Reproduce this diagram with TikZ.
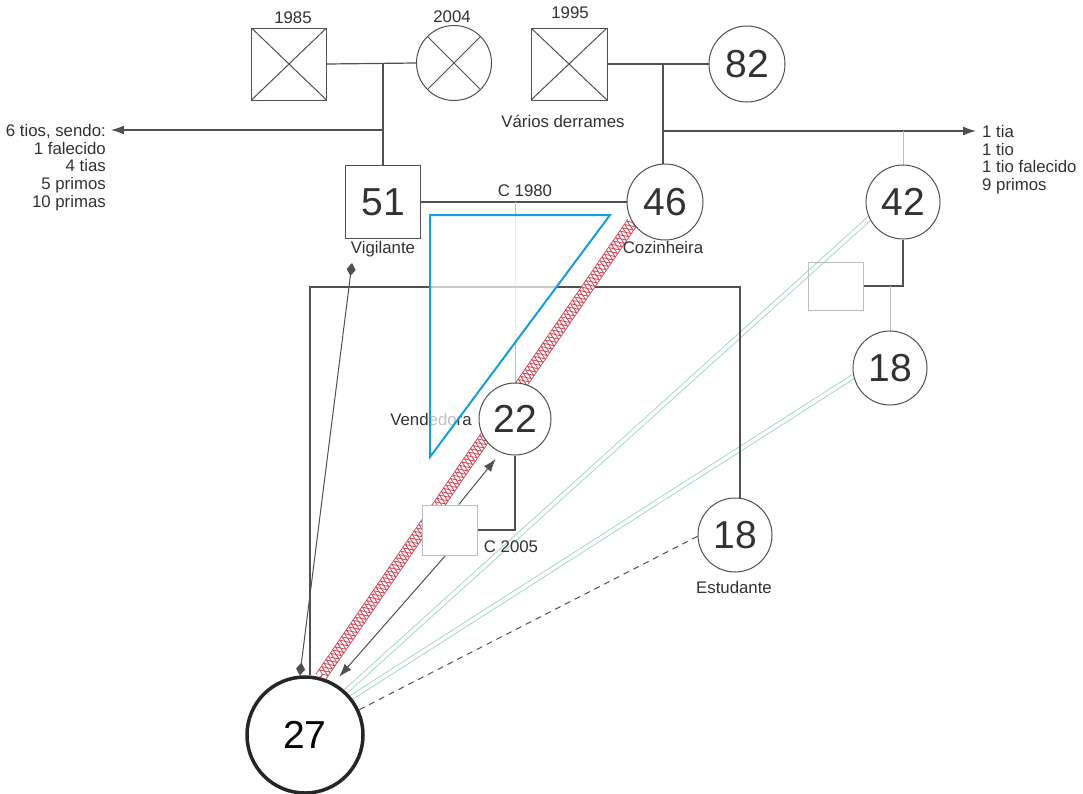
\documentclass[tikz,border=0pt]{standalone}
\usepackage{fontspec}
\setmainfont{Liberation Sans}
\usetikzlibrary{arrows.meta,decorations.pathmorphing,calc}
\pgfdeclarelayer{bg}
\pgfsetlayers{bg,main}
\definecolor{lg}{RGB}{80,80,80}
\definecolor{lgt}{RGB}{190,190,190}
\definecolor{txt}{RGB}{50,50,50}
\definecolor{cyanl}{RGB}{20,160,215}
\definecolor{hatchred}{RGB}{210,70,85}
\definecolor{tealg}{RGB}{160,212,200}
\begin{document}
\begin{tikzpicture}[x=1pt,y=-1pt,
  lbl/.style={font=\fontsize{16.8}{17.8}\selectfont, text=txt, inner sep=0pt, anchor=base},
  big/.style={font=\fontsize{39}{41}\selectfont, text=txt},
  pcirc/.style={circle, draw=lg, fill=white, line width=1pt, minimum size=#1, inner sep=0pt, big},
  psq/.style={rectangle, draw=lg, fill=white, line width=1pt, inner sep=0pt, big},
  lbox/.style={rectangle, draw=lgt, line width=1pt, minimum width=55pt, inner sep=0pt},
  crossed/.style={path picture={\draw[lg,line width=1pt] (path picture bounding box.north west) -- (path picture bounding box.south east) (path picture bounding box.north east) -- (path picture bounding box.south west);}},
  conn/.style={draw=lg, line width=1.2pt},
  light/.style={draw=lgt, line width=1pt},
  tealline/.style={draw=tealg, line width=0.9pt, double=white, double distance=3.5pt},
  arr/.style={-{Latex[length=13pt,width=9pt]}},
  hatch/.style={draw=hatchred, line width=0.9pt},
  zz/.style={hatch, line width=0.8pt, decorate, decoration={zigzag, segment length=8pt, amplitude=5pt, #1}},
  zz/.default={}
]
\useasboundingbox (0,0) rectangle (1083,793);

% people
\node[psq, crossed, minimum width=75pt, minimum height=72pt] (s85) at (289,64) {};
\node[pcirc=75pt, crossed] (c04) at (454,63) {};
\node[psq, crossed, minimum width=76pt, minimum height=72pt] (s95) at (569,64) {};
\node[pcirc=76pt] (c82) at (747,64) {82};
\node[psq, minimum width=75pt, minimum height=73pt] (n51) at (383,202) {51};
\node[pcirc=76pt] (n46) at (665,202) {46};
\node[pcirc=74pt] (n42) at (903,202) {42};
\node[pcirc=74pt] (n18b) at (890,368) {18};
\node[pcirc=72pt] (n22) at (515,419) {22};
\node[pcirc=74pt] (nest) at (735,535) {18};
\node[circle, draw=black!85, fill=white, line width=3.5pt, minimum size=116pt, inner sep=0pt, big, text=black] (n27) at (305,735) {27};
\node[lbox, fill=white, minimum height=50pt] (c2005) at (449.5,530) {};
\node[lbox, minimum height=48pt] (b42) at (835.5,286) {};

% labels
\node[lbl] (l85) at (293,23) {1985};
\node[lbl] (l04) at (452,22) {2004};
\node[lbl] (l95) at (570,18) {1995};
\node[lbl] (lvd) at (563,127) {Vários derrames};
\node[lbl] (lvig) at (383,253) {Vigilante};
\node[lbl] (lcoz) at (663,253) {Cozinheira};
\node[lbl] (lc80) at (525,196) {C 1980};
\node[lbl] (lven) at (431,425) {Vendedora};
\node[lbl] (lc05) at (511,552) {C 2005};
\node[lbl] (lest) at (734,593) {Estudante};
\node[lbl, anchor=north east, align=right] (ltxt) at (106,124) {6 tios, sendo:\\1 falecido\\4 tias\\5 primos\\10 primas};
\node[lbl, anchor=north west, align=left] (rtxt) at (982,125) {1 tia\\1 tio\\1 tio falecido\\9 primos};

\coordinate (la) at (111,130);
\coordinate (ra) at (976,131);
\coordinate (hr) at (740,287);
\coordinate (vg) at (352,263);

\begin{pgfonlayer}{bg}
\fill[white] (0,0) rectangle (1083,793);
% emotional teal links
\draw[tealline] (n42.206) -- (n27.47);
\draw[tealline] (n18b.193) -- (n27.39);

% family lines
\draw[conn] (s85.east) -- (c04.west);
\draw[conn] (n51.north |- s85.east) -- (n51.north);
\draw[conn, arr] (n51.north |- la) -- (la);
\draw[conn] (s95.east) -- (c82.west);
\draw[conn] ($(n46.north)+(-2,0)$) -- ($(n46.north |- s95.east)+(-2,0)$);
\draw[conn, arr] ($(n46.north |- ra)+(-2,0)$) -- (ra);
\draw[light] (n42.north |- ra) -- (n42.north);
\draw[conn] (n51.east) -- (n46.west);
\draw[light] (n22.north |- n51.east) -- (n22.north);
\draw[conn] (n22.south) |- (c2005.east);
\draw[conn] (n42.south) |- (b42.east);
\draw[light] (n18b.north) -- (n18b.north |- b42.east);
\draw[conn] ($(n27.north)+(5,0)$) |- (hr) -- ($(nest.north)+(5,0)$);

% red hatched link
\draw[hatch, double=white, double distance=10pt] (n46.212) -- (n27.75);
\draw[zz] (n46.212) -- (n27.75);
\draw[zz=mirror] (n46.212) -- (n27.75);

% arrows and other links
\draw[conn, line width=1pt, arr, shorten >=8pt] (c2005.261) -- (n27.61);
\draw[conn, line width=1pt, arr, shorten >=8pt] (c2005.70) -- (n22.247);
\draw[conn, line width=1pt, dash pattern=on 6pt off 5pt] (nest.182) -- (n27.25);
\draw[conn, line width=1pt, {Diamond[length=13pt,width=9pt]}-{Diamond[length=13pt,width=9pt]}] (vg) -- (n27.95);
\end{pgfonlayer}

% cyan triangle
\draw[cyanl, line width=2pt, fill=white, fill opacity=0.7] (430,215) -- (610,215) -- (430,457) -- cycle;
\end{tikzpicture}
\end{document}
